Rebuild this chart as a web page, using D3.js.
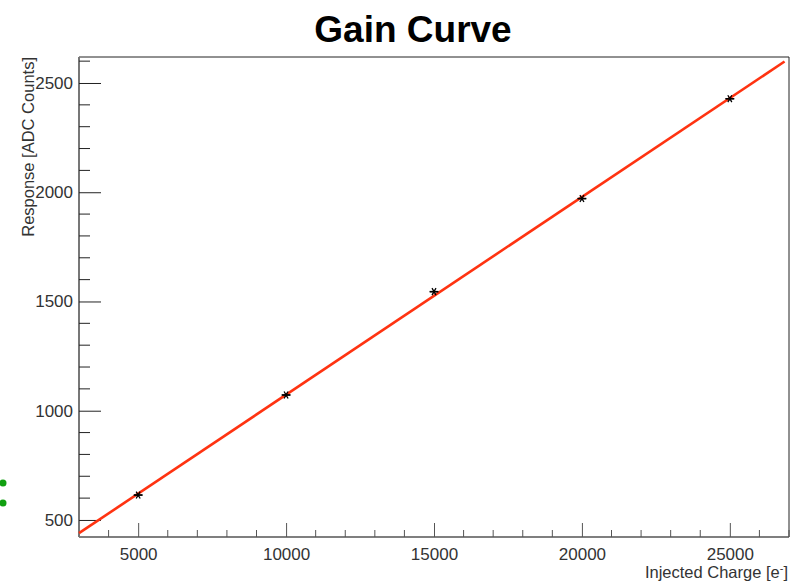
<!DOCTYPE html>
<html>
<head>
<meta charset="utf-8">
<script src="https://cdn.jsdelivr.net/npm/d3@7"></script>
<style>
  html, body { margin: 0; padding: 0; background: #fff; }
  svg { display: block; }
  svg text { font-family: "Liberation Sans", Arial, sans-serif; }
</style>
</head>
<body>
<svg id="chart" width="791" height="582"></svg>
<script>
// Injected charge (electrons) and measured ADC response
const charge = [5000, 10000, 15000, 20000, 25000];
const response = [614, 1072, 1545, 1971, 2428];
const responseErr = [8, 8, 8, 8, 8];

// Linear fit parameters: response = p0 + p1 * charge
const fitP0 = 168;
const fitP1 = 0.09052;
const fitRange = [3000, 26850];

const xMajor = [5000, 10000, 15000, 20000, 25000];
const yMajor = [500, 1000, 1500, 2000, 2500];

const svg = d3.select("#chart");
const frame = { left: 79, right: 789, top: 57, bottom: 537 };

const x = d3.scaleLinear().domain([3000, 27000]).range([frame.left, frame.right]);
const y = d3.scaleLinear().domain([422, 2619]).range([frame.bottom, frame.top]);

// Title
svg.append("text")
  .attr("x", 413).attr("y", 42)
  .attr("text-anchor", "middle")
  .style("font-size", "37px").attr("font-weight", "bold")
  .attr("fill", "#000")
  .text("Gain Curve");

// Frame (top and right edges)
svg.append("path")
  .attr("d", `M${frame.left},${frame.top}H${frame.right}V${frame.bottom}`)
  .attr("fill", "none").attr("stroke", "#222").attr("stroke-width", 1);

// X axis: ticks drawn inward (upwards)
const xMinor = d3.range(3000, 27001, 1000).filter(v => !xMajor.includes(v));
const gx = svg.append("g").attr("transform", `translate(0,${frame.bottom})`);
gx.call(d3.axisBottom(x).tickValues(xMajor).tickSize(-14).tickPadding(20).tickFormat(d3.format("d")));
gx.attr("font-family", null).attr("font-size", null);
gx.select(".domain").attr("d", `M${frame.left},0H${frame.right}`).attr("stroke", "#555").attr("stroke-width", 1.5);
gx.selectAll(".tick line").attr("stroke", "#555");
gx.selectAll(".tick text").style("font-size", "17px").attr("fill", "#333").attr("dy", "0.15em");
gx.selectAll(".minor").data(xMinor).enter().append("line")
  .attr("x1", d => x(d)).attr("x2", d => x(d))
  .attr("y1", 0).attr("y2", -7).attr("stroke", "#555");

// Y axis: ticks drawn inward (rightwards)
const yMinor = d3.range(500, 2601, 100).filter(v => !yMajor.includes(v));
const gy = svg.append("g").attr("transform", `translate(${frame.left},0)`);
gy.call(d3.axisLeft(y).tickValues(yMajor).tickSize(-22).tickPadding(6).tickFormat(d3.format("d")));
gy.attr("font-family", null).attr("font-size", null);
gy.select(".domain").attr("d", `M0,${frame.top}V${frame.bottom}`).attr("stroke", "#777").attr("stroke-width", 2);
gy.selectAll(".tick line").attr("stroke", "#222");
gy.selectAll(".tick text").style("font-size", "17px").attr("fill", "#333");
gy.selectAll(".minor").data(yMinor).enter().append("line")
  .attr("x1", 0).attr("x2", 11)
  .attr("y1", d => y(d)).attr("y2", d => y(d)).attr("stroke", "#222");

// Axis titles
const xt = svg.append("text")
  .attr("x", 788).attr("y", 578)
  .attr("text-anchor", "end")
  .style("font-size", "16.5px").attr("fill", "#333");
xt.append("tspan").text("Injected Charge [e");
xt.append("tspan").attr("dy", -6).style("font-size", "11px").text("-");
xt.append("tspan").attr("dy", 6).text("]");

svg.append("text")
  .attr("transform", "translate(34,57) rotate(-90)")
  .attr("text-anchor", "end")
  .style("font-size", "16.5px").attr("fill", "#333")
  .text("Response [ADC Counts]");

// Fit line
svg.append("line")
  .attr("x1", x(fitRange[0])).attr("y1", y(fitP0 + fitP1 * fitRange[0]))
  .attr("x2", x(fitRange[1])).attr("y2", y(fitP0 + fitP1 * fitRange[1]))
  .attr("stroke", "#ff3311").attr("stroke-width", 2.6);

// Data points with error bars and star markers
const pts = svg.append("g").selectAll("g").data(charge.map((c, i) => ({ c, r: response[i], e: responseErr[i] })))
  .enter().append("g").attr("transform", d => `translate(${x(d.c)},${y(d.r)})`);
pts.append("line").attr("x1", 0).attr("x2", 0)
  .attr("y1", d => y(d.r - d.e) - y(d.r)).attr("y2", d => y(d.r + d.e) - y(d.r))
  .attr("stroke", "#000").attr("stroke-width", 1);
[0, 60, 120].forEach(a => {
  pts.append("line").attr("x1", -4).attr("x2", 4).attr("y1", 0).attr("y2", 0)
    .attr("transform", `rotate(${a})`).attr("stroke", "#000").attr("stroke-width", 1.3);
});
pts.append("line").attr("x1", -4.5).attr("x2", 4.5).attr("stroke", "#000").attr("stroke-width", 1.5);

// Green markers at the left edge
svg.selectAll(".gdot").data([483, 503]).enter().append("circle")
  .attr("cx", 3).attr("cy", d => d).attr("r", 3.5).attr("fill", "#11a011");
</script>
</body>
</html>
